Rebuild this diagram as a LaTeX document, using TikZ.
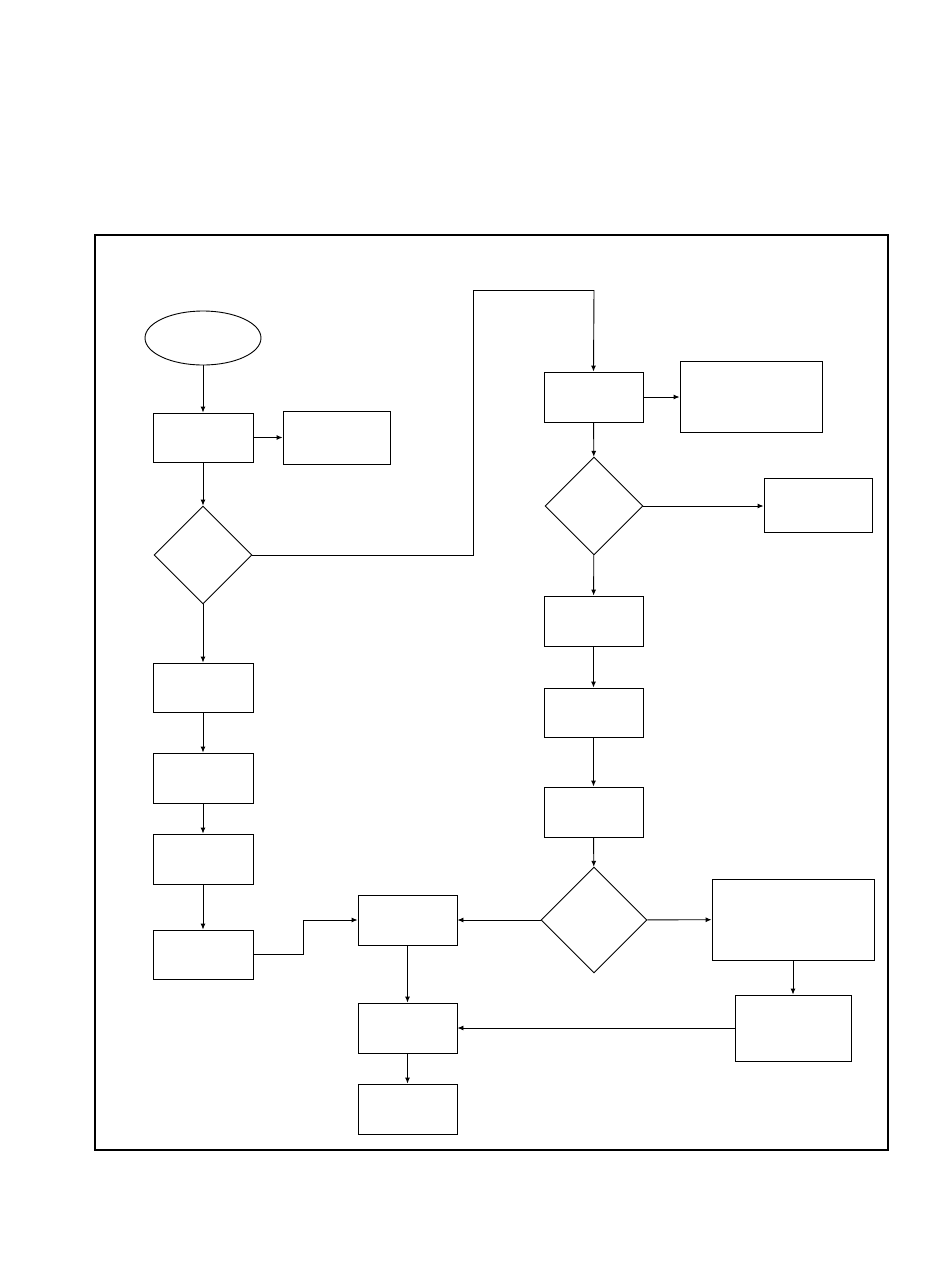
\documentclass[tikz,border=0pt]{standalone}
\usetikzlibrary{shapes.geometric,arrows.meta}
\begin{document}
\begin{tikzpicture}[x=1pt,y=-1pt,
  every node/.style={draw,line width=0.9pt,inner sep=0pt},
  bx/.style={rectangle,minimum width=#1},
  dia/.style={diamond,minimum width=#1,minimum height=#1},
  arr/.style={line width=0.9pt,-{Latex[length=6pt,width=5pt]}},
  ln/.style={line width=0.9pt}]
\useasboundingbox (0,0) rectangle (950,1267);
\draw[line width=2pt] (95,235) rectangle (888,1150);
% left column
\node[ellipse,minimum width=116pt,minimum height=54pt] (st) at (203,338) {};
\node[bx=100pt,minimum height=49pt] (a) at (203,437.5) {};
\node[bx=107pt,minimum height=53pt] (b) at (336.5,437.5) {};
\node[dia=98pt] (d1) at (203,555) {};
\node[bx=100pt,minimum height=49pt] (l1) at (203,687.5) {};
\node[bx=100pt,minimum height=50pt] (l2) at (203,778) {};
\node[bx=100pt,minimum height=50pt] (l3) at (203,859) {};
\node[bx=100pt,minimum height=49pt] (l4) at (203,954.5) {};
% right column
\node[bx=99pt,minimum height=50pt] (r1) at (593.5,397) {};
\node[bx=142pt,minimum height=71pt] (r1s) at (751,396.5) {};
\node[dia=98pt] (d2) at (594,506) {};
\node[bx=108pt,minimum height=54pt] (r2s) at (818,505) {};
\node[bx=99pt,minimum height=50pt] (r3) at (593.5,621) {};
\node[bx=99pt,minimum height=49pt] (r4) at (593.5,712.5) {};
\node[bx=99pt,minimum height=50pt] (r5) at (593.5,812) {};
\node[diamond,minimum width=106pt,minimum height=106pt,aspect=1] (d3) at (594,920) {};
\node[bx=162pt,minimum height=81pt] (big) at (793,919.5) {};
\node[bx=116pt,minimum height=66pt] (r6) at (793,1028) {};
% middle
\node[bx=99pt,minimum height=50pt] (m1) at (407.5,920) {};
\node[bx=99pt,minimum height=50pt] (m2) at (407.5,1028) {};
\node[bx=99pt,minimum height=50pt] (m3) at (407.5,1109) {};
\coordinate (c1) at (473,555);
\coordinate (c2) at (473,290);
\coordinate (c3) at (594,290);
\coordinate (c4) at (303,954.5);
\coordinate (c5) at (303,920);
% connectors
\draw[arr] (st) -- (a);
\draw[arr] (a) -- (b);
\draw[arr] (a) -- (d1);
\draw[arr] (d1) -- (l1);
\draw[arr] (l1) -- (l2);
\draw[arr] (l2) -- (l3);
\draw[arr] (l3) -- (l4);
\draw[ln] (d1.east) -- (c1) -- (c2) -- (c3);
\draw[arr] (c3) -- (r1.north);
\draw[arr] (r1) -- (r1s.west |- r1.east);
\draw[arr] (r1) -- (d2);
\draw[arr] (d2) -- (r2s.west |- d2.east);
\draw[arr] (d2) -- (r3);
\draw[arr] (r3) -- (r4);
\draw[arr] (r4) -- (r5);
\draw[arr] (r5) -- (d3);
\draw[arr] (d3) -- (m1);
\draw[arr] (d3) -- (big);
\draw[arr] (big) -- (r6);
\draw[arr] (r6) -- (m2);
\draw[arr] (m1) -- (m2);
\draw[arr] (m2) -- (m3);
\draw[ln] (l4.east) -- (c4) -- (c5);
\draw[arr] (c5) -- (m1.west);
\end{tikzpicture}
\end{document}
